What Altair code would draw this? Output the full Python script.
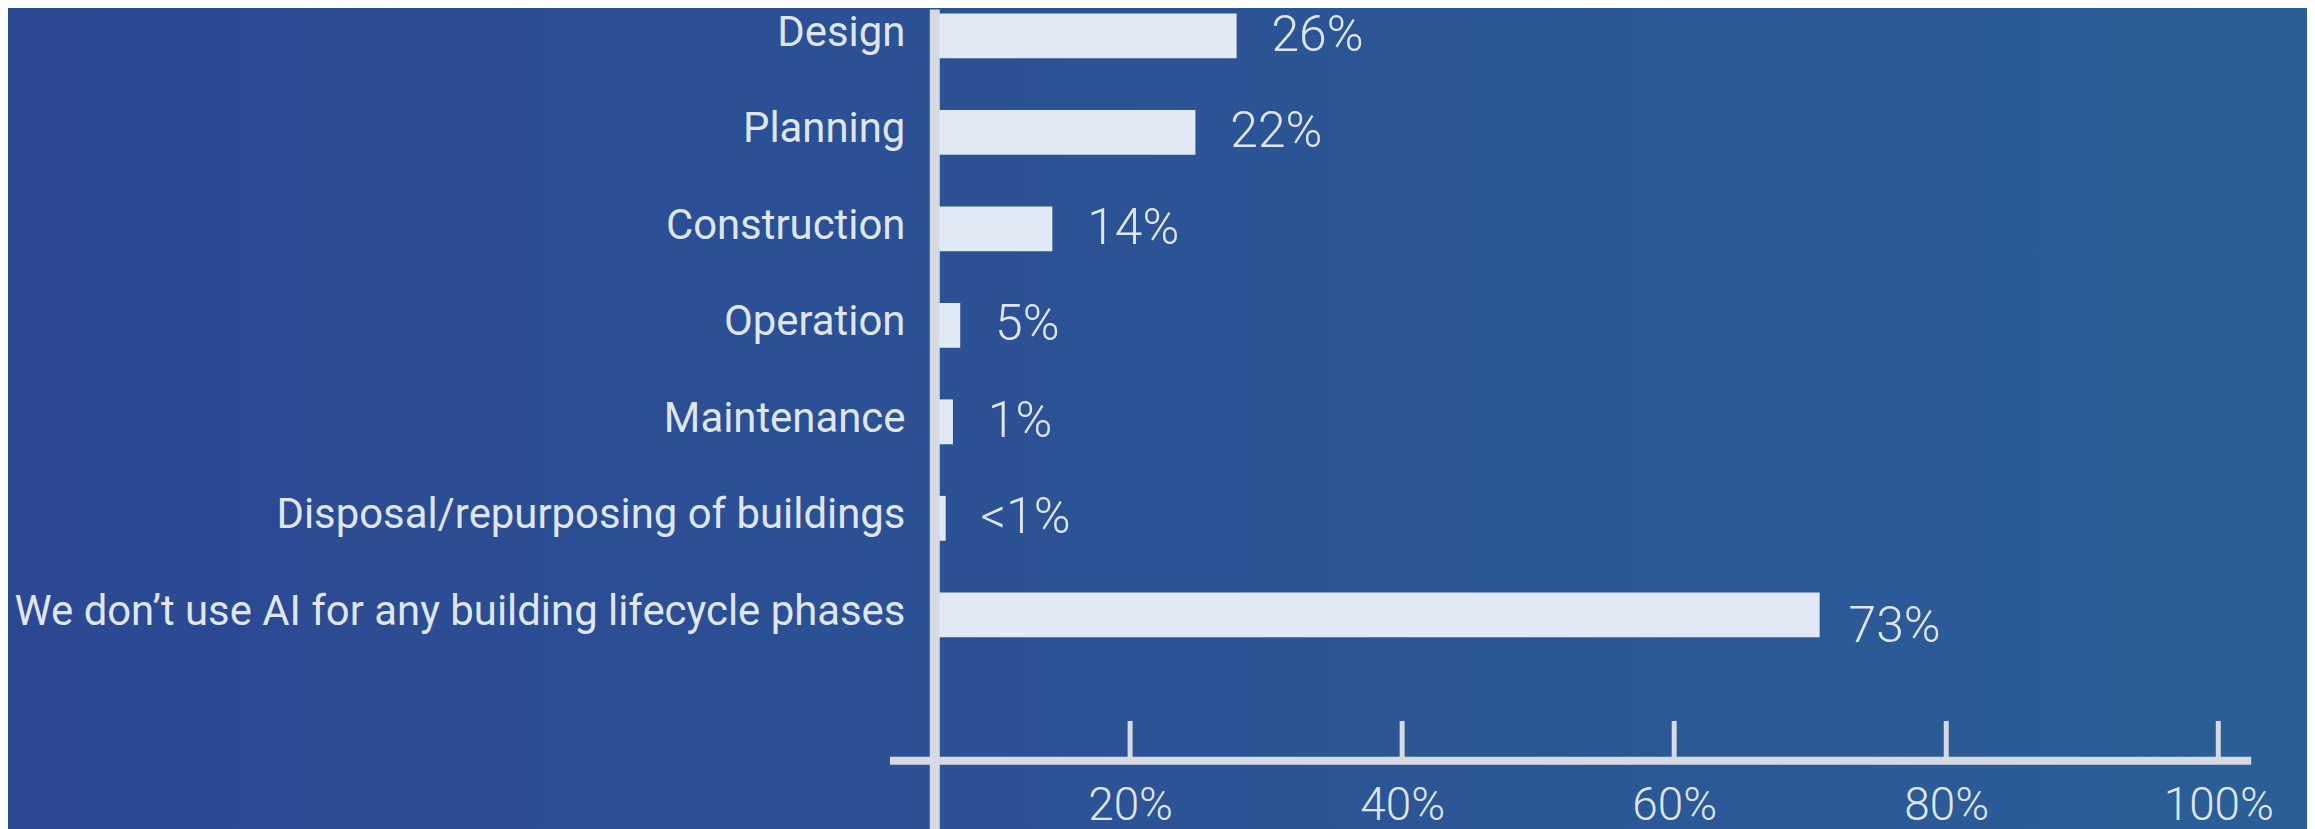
import altair as alt
import pandas as pd

# ---- data ----
categories = [
    "Design",
    "Planning",
    "Construction",
    "Operation",
    "Maintenance",
    "Disposal/repurposing of buildings",
    "We don’t use AI for any building lifecycle phases",
]
# bar lengths as drawn (percent units of the bar scale)
bar_values = [24.9, 21.5, 9.7, 2.1, 1.5, 0.9, 73.0]
value_labels = ["26%", "22%", "14%", "5%", "1%", "<1%", "73%"]
tick_values = [20, 40, 60, 80, 100]

# ---- layout / style ----
W = 1321
H = 626
TOP = 4
AXIS_Y = 754 - TOP
BAR_COLOR = "#e1e9f5"
LINE_COLOR = "#d6dbe3"
TEXT_COLOR = "#dfe6f2"

df = pd.DataFrame({"category": categories, "value": bar_values, "label": value_labels})
ticks_df = pd.DataFrame({"tick": tick_values})
one = alt.Data(values=[{}])

y_enc = alt.Y(
    "category:N",
    sort=categories,
    scale=alt.Scale(paddingInner=0.535, paddingOuter=0),
    axis=alt.Axis(
        title=None, domain=False, ticks=False, tickSize=0, grid=False,
        labelPadding=30, labelFont="Roboto", labelFontSize=42,
        labelColor=TEXT_COLOR, labelLimit=1500, labelOffset=-3, zindex=2,
    ),
)
x_bar = alt.X("value:Q", scale=alt.Scale(domain=[0, 108.6], nice=False, zero=True), axis=None)

bg = alt.Chart(one).mark_rect(
    color=alt.LinearGradient(
        gradient="linear",
        stops=[alt.GradientStop(color="#2c4893", offset=0),
               alt.GradientStop(color="#2b5e97", offset=1)],
        x1=0, x2=1, y1=0, y2=0,
    )
).encode(x=alt.value(-940), x2=alt.value(W + 70), y=alt.value(-10), y2=alt.value(840))

bars = alt.Chart(df).mark_bar(color=BAR_COLOR).encode(x=x_bar, y=y_enc)

labels_main = alt.Chart(df).transform_filter(alt.datum.value < 50).mark_text(
    align="left", baseline="middle", dx=35, font="Roboto", fontSize=50,
    fontWeight=300, color=TEXT_COLOR,
).encode(x=x_bar, y=y_enc, text="label:N")

labels_big = alt.Chart(df).transform_filter(alt.datum.value >= 50).mark_text(
    align="left", baseline="middle", dx=29, dy=12, font="Roboto", fontSize=50,
    fontWeight=300, color=TEXT_COLOR,
).encode(x=x_bar, y=y_enc, text="label:N")

vline = alt.Chart(one).mark_rule(color=LINE_COLOR, strokeWidth=10).encode(
    x=alt.value(0), y=alt.value(-TOP), y2=alt.value(840)
)
hline = alt.Chart(one).mark_rule(color=LINE_COLOR, strokeWidth=8).encode(
    x=alt.value(-45), x2=alt.value(W), y=alt.value(AXIS_Y)
)

ticks = alt.Chart(ticks_df).mark_rule(color=LINE_COLOR, strokeWidth=5).encode(
    x=alt.X(
        "tick:Q",
        scale=alt.Scale(domain=[5.64, 102.42], nice=False, zero=False),
        axis=alt.Axis(
            values=tick_values, labelExpr="datum.value + '%'", orient="bottom",
            offset=AXIS_Y - H, domain=False, ticks=False, tickSize=0, grid=False,
            labelPadding=45, labelBaseline="middle", labelFont="Roboto",
            labelFontSize=46, labelFontWeight=300, labelColor=TEXT_COLOR,
            title=None, labelFlush=False, labelOverlap=False, zindex=2,
        ),
    ),
    y=alt.value(AXIS_Y - 40),
    y2=alt.value(AXIS_Y),
)

chart = alt.layer(bg, bars, labels_main, labels_big, vline, hline, ticks).resolve_scale(
    x="independent"
).properties(
    width=W,
    height=H,
    padding={"left": 930, "top": TOP, "right": 56, "bottom": 195},
    autosize=alt.AutoSizeParams(type="none"),
    background="#2b5394",
).configure_view(strokeWidth=0)

chart.save("out.html", embed_options={"renderer": "svg", "actions": False})
